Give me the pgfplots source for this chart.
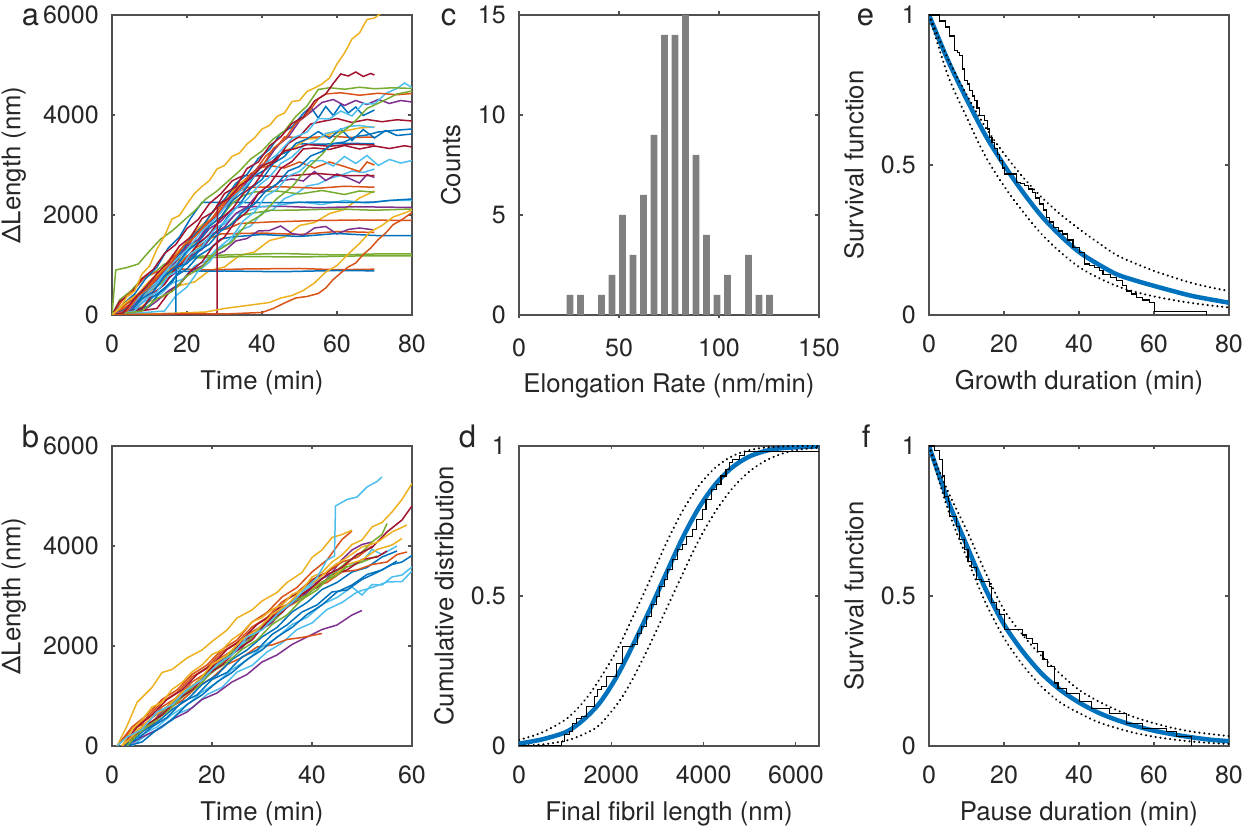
\documentclass[border=0pt]{standalone}
\usepackage{fontspec}
\setmainfont{TeX Gyre Heros}
\usepackage{pgfplots}
\pgfplotsset{compat=1.18}

\definecolor{m1}{RGB}{0,114,189}
\definecolor{m2}{RGB}{217,83,25}
\definecolor{m3}{RGB}{237,177,32}
\definecolor{m4}{RGB}{126,47,142}
\definecolor{m5}{RGB}{119,172,48}
\definecolor{m6}{RGB}{77,190,238}
\definecolor{m7}{RGB}{162,20,47}
\definecolor{axgray}{RGB}{38,38,38}
\definecolor{framegray}{RGB}{80,80,80}
\definecolor{histgray}{RGB}{128,128,128}

\pgfplotsset{
  mat/.style={
    scale only axis, width=120pt, height=120pt,
    axis line style={draw=framegray, line width=0.45pt},
    every tick/.style={draw=framegray, line width=0.45pt},
    major tick length=1.4pt,
    tick align=inside,
    tick label style={font=\fontsize{10}{12}\selectfont, text=axgray},
    label style={font=\fontsize{10.3}{12}\selectfont, text=axgray},
    /pgf/number format/assume math mode=true,
    /pgf/number format/1000 sep={},
    scaled ticks=false,
    xticklabel shift=4.5pt,
    yticklabel shift=1.8pt,
  },
  trace/.style={line width=0.6pt},
  fit/.style={color=m1, line width=1.8pt, smooth, tension=0.5},
  ci/.style={black, line width=0.9pt, line cap=round, dash pattern=on 0.05pt off 1.9pt, smooth, tension=0.5},
  km/.style={black, line width=0.45pt, const plot},
}
\tikzset{letter/.style={anchor=base west, font=\fontsize{12.4}{14}\selectfont, text=axgray}}

\begin{document}
\begin{tikzpicture}
\path[use as bounding box] (0,0) rectangle (501.2pt,-331.2pt);

% ---------------- a ----------------
\begin{axis}[mat, at={(44.8pt,-6pt)}, anchor=north west,
  xmin=0, xmax=80, ymin=0, ymax=6000,
  xtick={0,20,40,60,80}, ytick={0,2000,4000,6000},
  xlabel={Time (min)}, ylabel={ΔLength (nm)},
  every axis plot/.append style={trace}]
\addplot[m6] coordinates {(0,0)(5,100)(10,330)(13,420)(16,640)(19,720)(22,980)(25,1080)(28,1330)(31,1420)(34,1690)(37,1780)(40,2040)(43,2110)(46,2330)(49,2420)(52,2580)(55,2620)(58,2730)(61,2790)(64,2880)(67,2850)(70,2920)};
\addplot[m3] coordinates {(0,0)(6,80)(10,270)(14,380)(18,590)(22,660)(26,890)(30,960)(34,1190)(38,1260)(42,1490)(46,1560)(50,1790)(54,1850)(58,2030)(62,2110)(66,2340)(70,2480)};
\addplot[m5] coordinates {(0,0)(2,300)(5,480)(8,720)(11,830)(14,1020)(17,1080)(20,1160)(30,1200)(45,1230)(60,1200)(70,1220)(80,1220)};
\addplot[m5] coordinates {(0,0)(3,180)(6,380)(9,520)(12,780)(15,870)(18,1070)(22,1140)(35,1170)(50,1160)(65,1180)(80,1180)};
\addplot[m2] coordinates {(0,0)(3,320)(6,520)(9,780)(12,860)(15,930)(25,900)(35,920)(50,930)(60,905)(70,916)};
\addplot[m1] coordinates {(0,0)(4,120)(7,420)(10,570)(13,800)(16,870)(30,880)(45,865)(60,890)(70,883)};
\addplot[m2] coordinates {(0,0)(5,180)(8,380)(11,520)(14,780)(17,900)(20,1180)(23,1300)(26,1530)(29,1620)(40,1640)(50,1610)(60,1670)(70,1650)};
\addplot[m4] coordinates {(0,0)(9,120)(12,280)(15,480)(18,620)(21,880)(24,980)(27,1180)(30,1280)(33,1480)(36,1530)(39,1680)(42,1690)(45,1780)(48,1630)(51,1590)(54,1740)(57,1770)(60,1620)(63,1710)(66,1740)(70,1700)};
\addplot[m1] coordinates {(0,0)(8,130)(11,370)(14,520)(17,780)(20,920)(23,1180)(26,1320)(29,1520)(32,1560)(40,1610)(50,1570)(60,1630)(70,1590)(80,1585)};
\addplot[m2] coordinates {(0,0)(4,120)(7,280)(10,530)(13,660)(16,930)(19,1060)(22,1330)(25,1460)(28,1680)(31,1730)(34,1830)(42,1860)(55,1890)(66,1900)(80,1890)};
\addplot[m5] coordinates {(0,0)(7,230)(10,480)(13,620)(16,880)(19,1010)(22,1280)(25,1420)(28,1680)(31,1770)(34,1980)(37,2030)(42,2090)(50,2100)(60,2120)(70,2095)(80,2120)};
\addplot[m4] coordinates {(0,0)(5,90)(8,330)(11,470)(14,780)(17,960)(20,1280)(23,1460)(26,1730)(29,1870)(32,2120)(34,2160)(45,2175)(55,2145)(65,2165)(80,2150)};
\addplot[m6] coordinates {(0,0)(6,130)(9,420)(12,610)(15,930)(18,1060)(21,1330)(24,1460)(27,1730)(30,1820)(33,2020)(36,2080)(40,2170)(44,2190)(50,2260)(56,2210)(62,2290)(68,2240)(74,2290)(80,2290)};
\addplot[m1] coordinates {(0,0)(3,220)(6,420)(9,730)(12,960)(15,1340)(18,1560)(21,1940)(24,2250)(35,2250)(45,2245)(55,2260)(65,2250)(70,2260)(74,2290)(77,2305)(80,2320)};
\addplot[m5] coordinates {(0,0)(5,160)(8,430)(11,610)(14,880)(17,1060)(20,1330)(23,1510)(26,1780)(29,1950)(32,2230)(35,2390)(38,2460)(44,2480)(50,2420)(56,2490)(62,2410)(66,2480)(70,2455)};
\addplot[m2] coordinates {(0,0)(4,270)(7,420)(10,680)(13,860)(16,1130)(19,1310)(22,1580)(25,1760)(28,2030)(31,2210)(34,2480)(36,2550)(45,2565)(55,2535)(62,2575)(70,2555)};
\addplot[m4] coordinates {(0,0)(6,90)(9,330)(12,470)(15,730)(18,910)(21,1180)(24,1310)(27,1630)(30,1760)(33,2030)(36,2160)(39,2430)(42,2510)(45,2680)(48,2720)(51,2680)(54,2870)(57,2690)(60,2820)(63,2740)(66,2640)(68,2810)(70,2750)};
\addplot[m7] coordinates {(0,0)(2,270)(5,420)(8,730)(11,910)(14,1230)(17,1410)(20,1730)(23,1910)(26,2230)(29,2420)(32,2680)(35,2790)(45,2770)(55,2830)(62,2785)(70,2790)};
\addplot[m2] coordinates {(0,0)(3,170)(6,330)(9,580)(12,760)(15,1080)(18,1260)(21,1580)(24,1760)(27,2080)(30,2260)(33,2580)(36,2720)(39,2930)(42,2990)(46,2940)(50,3060)(54,2940)(58,3060)(62,2970)(66,2870)(68,3060)(70,3000)};
\addplot[m1] coordinates {(0,0)(5,80)(8,330)(11,460)(14,780)(17,960)(20,1280)(23,1460)(26,1780)(29,1960)(32,2280)(35,2460)(38,2780)(41,2910)(44,3180)(47,3270)(50,3425)(56,3415)(62,3435)(70,3425)};
\addplot[m2] coordinates {(0,0)(5,220)(8,380)(11,680)(14,860)(17,1180)(20,1360)(23,1680)(26,1860)(29,2180)(32,2360)(35,2680)(38,2860)(41,3180)(44,3360)(46,3560)(52,3545)(58,3575)(64,3550)(70,3560)};
\addplot[m3] coordinates {(0,0)(4,270)(7,420)(10,680)(13,860)(16,1180)(19,1360)(22,1680)(25,1860)(28,2180)(31,2360)(34,2630)(37,2760)(40,2980)(43,3070)(46,3280)(49,3370)(52,3520)(55,3530)(58,3620)(62,3680)(66,3740)(70,3760)};
\addplot[m6] coordinates {(0,0)(14,80)(17,380)(20,560)(23,880)(26,1060)(29,1380)(32,1560)(35,1880)(38,2060)(41,2380)(44,2510)(47,2780)(50,2870)(53,3080)(56,3090)(59,2980)(62,3170)(65,3030)(68,3190)(71,2990)(74,3110)(77,3040)(80,3090)};
\addplot[m7] coordinates {(0,0)(12,130)(15,430)(18,610)(21,880)(24,1060)(27,1380)(30,1560)(33,1880)(36,2060)(39,2430)(42,2610)(45,2930)(48,3070)(51,3320)(54,3340)(58,3310)(62,3390)(66,3320)(70,3380)(74,3330)(78,3385)(80,3360)};
\addplot[m1] coordinates {(0,0)(10,180)(13,480)(16,660)(19,980)(22,1160)(25,1480)(28,1660)(31,1980)(34,2210)(37,2530)(40,2710)(43,3030)(46,3170)(49,3430)(52,3520)(55,3670)(58,3530)(61,3720)(64,3490)(67,3710)(70,3540)(73,3690)(76,3590)(80,3620)};
\addplot[m7] coordinates {(0,0)(8,130)(11,430)(14,610)(17,930)(20,1110)(23,1430)(26,1610)(29,1930)(32,2110)(35,2430)(38,2610)(41,2930)(44,3110)(47,3430)(50,3570)(53,3820)(56,3870)(60,3930)(64,3850)(68,3910)(72,3865)(76,3905)(80,3880)};
\addplot[m6] coordinates {(0,0)(6,80)(9,330)(12,460)(15,780)(18,910)(21,1230)(24,1360)(27,1680)(30,1860)(33,2130)(36,2310)(39,2580)(42,2760)(45,3030)(48,3160)(51,3380)(54,3470)(57,3630)(60,3680)(63,3770)(66,3790)(70,3750)};
\addplot[m1] coordinates {(0,0)(6,180)(9,480)(12,660)(15,980)(18,1210)(21,1530)(24,1760)(27,2080)(30,2310)(33,2630)(36,2810)(39,3130)(42,3310)(45,3630)(48,3760)(51,4030)(53,4160)(55,3940)(57,4170)(59,3990)(61,4210)(63,4040)(65,4160)(67,3990)(70,4100)};
\addplot[m4] coordinates {(0,0)(5,130)(8,430)(11,610)(14,880)(17,1060)(20,1380)(23,1510)(26,1830)(29,2060)(32,2380)(35,2560)(38,2880)(41,3060)(44,3380)(47,3560)(50,3880)(53,4060)(56,4250)(59,4310)(62,4190)(65,4290)(68,4210)(71,4310)(74,4230)(77,4290)(80,4260)};
\addplot[m6] coordinates {(0,0)(4,80)(8,430)(12,660)(16,1030)(20,1310)(24,1680)(28,1960)(32,2330)(36,2610)(40,2980)(44,3210)(48,3530)(52,3660)(55,3930)(58,3920)(61,4080)(64,3980)(67,4230)(70,4220)(73,4430)(76,4530)(78,4640)(80,4550)};
\addplot[m2] coordinates {(0,0)(4,80)(7,380)(10,560)(13,830)(16,1060)(19,1380)(22,1560)(25,1830)(28,2010)(31,2330)(34,2510)(37,2830)(40,2960)(43,3330)(46,3510)(49,3830)(52,4010)(55,4320)(57,4420)(61,4445)(66,4395)(71,4435)(76,4405)(80,4430)};
\addplot[m5] coordinates {(0,0)(8,80)(12,330)(16,470)(20,780)(24,960)(28,1280)(32,1460)(36,1830)(40,2010)(44,2330)(48,2560)(52,2930)(56,3210)(60,3580)(64,3810)(68,4130)(72,4270)(76,4420)(80,4480)};
\addplot[m5] coordinates {(0,0)(1,900)(4,950)(7,1020)(10,1280)(13,1520)(16,1680)(19,1880)(22,2080)(25,2320)(28,2480)(31,2680)(34,2880)(37,3120)(40,3280)(43,3520)(46,3680)(49,3970)(52,4180)(55,4510)(58,4545)(62,4515)(66,4555)(70,4525)(75,4545)(80,4530)};
\addplot[m7] coordinates {(0,0)(3,40)(6,330)(9,560)(12,830)(15,1060)(18,1380)(21,1560)(24,1930)(27,2060)(30,2430)(33,2560)(36,2930)(39,3060)(42,3380)(45,3560)(48,3830)(51,3960)(54,4280)(57,4420)(59,4630)(61,4820)(63,4780)(65,4860)(67,4770)(69,4830)(70,4800)};
\addplot[m7] coordinates {(0,0)(10,10)(20,20)(28,20)(28.1,2200)(31,2330)(34,2580)(37,2730)(40,2980)(43,3080)(46,3280)(49,3330)(52,3410)(58,3375)(64,3415)(70,3400)};
\addplot[m1] coordinates {(0,0)(10,20)(17,30)(17.1,950)(20,1030)(23,1280)(26,1420)(29,1680)(32,1820)(35,2080)(38,2220)(41,2480)(44,2620)(47,2880)(50,2970)(53,3180)(56,3270)(59,3430)(62,3460)(65,3570)(68,3600)(71,3660)(75,3690)(80,3720)};
\addplot[m3] coordinates {(0,0)(15,30)(25,60)(30,130)(34,170)(38,210)(42,250)(45,340)(48,390)(51,490)(54,640)(57,860)(60,990)(63,1220)(66,1430)(69,1670)(72,1790)(75,1960)(78,2040)(80,2100)};
\addplot[m2] coordinates {(0,0)(20,30)(30,20)(40,50)(43,130)(46,240)(49,340)(52,370)(55,430)(57,540)(59,710)(61,840)(63,960)(65,1040)(67,1210)(69,1340)(71,1510)(73,1640)(75,1810)(77,1890)(80,2050)};
\addplot[m3] coordinates {(0,0)(2,130)(4,370)(6,480)(8,820)(10,980)(12,1320)(14,1580)(16,1920)(18,1990)(20,2220)(22,2430)(24,2570)(26,2690)(28,2920)(30,2990)(32,3170)(34,3240)(36,3420)(38,3540)(40,3720)(42,3790)(44,3970)(46,4040)(48,4270)(50,4290)(52,4470)(54,4540)(56,4620)(58,4740)(60,5020)(62,5240)(64,5520)(66,5640)(68,5910)(70,5940)(72,6050)};
\end{axis}

% ---------------- b ----------------
\begin{axis}[mat, at={(44.8pt,-178.4pt)}, anchor=north west,
  xmin=0, xmax=60, ymin=0, ymax=6000,
  xtick={0,20,40,60}, ytick={0,2000,4000,6000},
  xlabel={Time (min)}, ylabel={ΔLength (nm)},
  every axis plot/.append style={trace}]
\addplot[m6] coordinates {(4,0)(7,230)(10,370)(13,640)(16,760)(19,1030)(22,1170)(25,1480)(28,1610)(31,1880)(34,2060)(37,2330)(40,2460)(43,2730)(46,2870)(49,3080)(52,3170)(55,3280)(58,3290)(60,3500)};
\addplot[m4] coordinates {(3,0)(6,180)(9,320)(12,530)(15,680)(18,930)(21,1060)(24,1280)(27,1430)(30,1680)(33,1820)(36,2030)(39,2180)(42,2330)(45,2420)(48,2620)(50,2710)};
\addplot[m2] coordinates {(2,0)(5,280)(8,420)(11,730)(14,910)(17,1180)(20,1360)(23,1630)(26,1770)(29,1980)(32,2020)(35,2130)(38,2170)(42,2250)};
\addplot[m6] coordinates {(3,0)(6,230)(9,380)(12,630)(15,820)(18,1080)(21,1270)(24,1530)(27,1720)(30,1980)(33,2170)(36,2430)(39,2570)(42,2830)(45,2970)(48,3180)(50,3020)(52,3230)(54,3220)(56,3380)(58,3420)(60,3580)};
\addplot[m1] coordinates {(3,0)(6,80)(9,330)(12,520)(15,830)(18,1020)(21,1280)(24,1470)(27,1730)(30,1920)(33,2180)(36,2370)(39,2630)(42,2820)(45,3080)(48,3220)(51,3430)(54,3520)(57,3700)};
\addplot[m1] coordinates {(2,0)(5,130)(8,380)(11,570)(14,880)(17,1020)(20,1330)(23,1470)(26,1780)(29,1920)(32,2230)(35,2420)(38,2680)(41,2820)(44,3080)(47,3120)(50,3330)(53,3470)(56,3630)(58,3680)(60,3810)};
\addplot[m1] coordinates {(3,0)(6,280)(9,470)(12,730)(15,920)(18,1230)(21,1420)(24,1730)(27,1920)(30,2180)(33,2370)(36,2680)(39,2870)(42,3130)(45,3270)(48,3480)(51,3570)(54,3780)(57,3900)};
\addplot[m2] coordinates {(1,0)(4,330)(7,470)(10,780)(13,970)(16,1280)(19,1470)(22,1780)(25,1970)(28,2280)(31,2470)(34,2780)(37,2920)(40,3180)(43,3270)(46,3480)(49,3520)(52,3630)(55,3680)(57,3830)(59,3880)};
\addplot[m6] coordinates {(2,0)(5,280)(8,470)(11,780)(14,970)(17,1280)(20,1520)(23,1830)(26,2020)(29,2330)(32,2520)(35,2830)(38,3020)(41,3330)(44,3420)(47,3630)(50,3680)(52,3930)(54,3830)(57,4000)};
\addplot[m5] coordinates {(2,0)(5,280)(8,470)(11,780)(14,970)(17,1280)(20,1470)(23,1780)(26,1970)(29,2280)(32,2470)(35,2780)(38,2970)(41,3230)(44,3370)(47,3580)(50,3680)(53,3800)};
\addplot[m7] coordinates {(2,0)(5,230)(8,570)(11,780)(14,1080)(17,1270)(20,1580)(23,1770)(26,2080)(29,2270)(32,2580)(35,2770)(38,3030)(41,3170)(44,3430)(47,3520)(50,3730)(53,3780)(55,3900)};
\addplot[m3] coordinates {(2,0)(5,330)(8,480)(11,780)(14,970)(17,1280)(20,1470)(23,1780)(26,1970)(29,2280)(32,2470)(35,2780)(38,2920)(41,3230)(44,3370)(47,3630)(50,3720)(53,3930)(56,4020)(58,4150)};
\addplot[m4] coordinates {(2,0)(5,280)(8,470)(11,780)(14,970)(17,1280)(20,1470)(23,1780)(26,1970)(29,2280)(32,2470)(35,2780)(38,2970)(41,3280)(44,3470)(46,3730)(48,3920)(50,4030)(52,4080)};
\addplot[m2] coordinates {(1,0)(4,330)(7,570)(10,880)(13,1070)(16,1380)(19,1570)(22,1880)(25,2070)(28,2380)(31,2570)(34,2880)(37,3070)(40,3330)(43,3470)(46,3680)(49,3770)(52,4000)};
\addplot[m5] coordinates {(3,0)(6,330)(9,520)(12,880)(15,1070)(18,1380)(21,1570)(24,1880)(27,2070)(30,2380)(33,2570)(36,2880)(39,3020)(42,3280)(45,3420)(47,3600)};
\addplot[m7] coordinates {(2,0)(5,380)(8,620)(11,930)(14,1120)(17,1430)(20,1620)(23,1930)(26,2120)(29,2430)(32,2620)(35,2930)(38,3120)(41,3380)(43,3470)(45,3650)};
\addplot[m2] coordinates {(1,0)(4,380)(7,620)(10,930)(13,1120)(16,1430)(19,1620)(22,1930)(25,2120)(28,2480)(31,2670)(34,2980)(37,3170)(40,3480)(43,3720)(46,4130)(48,4300)};
\addplot[m3] coordinates {(1,0)(3,400)(5,870)(8,1170)(10,1470)(12,1530)(15,1760)(18,1920)(20,2090)(23,2320)(25,2560)(28,2720)(30,2900)(33,3070)(35,3270)(38,3470)(40,3770)(42,3920)(44,4170)(46,4230)(48,4315)};
\addplot[m5] coordinates {(2,0)(5,230)(8,470)(11,680)(14,980)(17,1170)(20,1480)(23,1670)(26,1930)(29,2120)(32,2430)(35,2620)(38,2930)(41,3120)(44,3430)(47,3680)(50,3880)(52,4080)(54,4230)(55,4450)};
\addplot[m7] coordinates {(2,0)(4,180)(7,430)(10,620)(13,930)(16,1120)(19,1430)(22,1620)(25,1930)(28,2120)(31,2480)(34,2670)(37,2980)(40,3170)(43,3430)(46,3570)(49,3830)(52,3970)(55,4280)(58,4520)(60,4800)};
\addplot[m3] coordinates {(2,0)(5,280)(8,580)(11,780)(14,1080)(17,1270)(20,1630)(23,1820)(26,2130)(29,2320)(32,2630)(35,2820)(38,3130)(41,3320)(44,3580)(47,3770)(50,3980)(53,4070)(56,4280)(59,4420)};
\addplot[m3] coordinates {(2,0)(4,330)(6,520)(8,780)(10,870)(12,1130)(14,1270)(16,1480)(18,1620)(20,1830)(22,1920)(24,2130)(26,2270)(28,2480)(30,2570)(32,2730)(34,2820)(36,3030)(38,3120)(40,3380)(42,3470)(44,3680)(46,3820)(48,4030)(50,4120)(52,4380)(54,4470)(56,4680)(58,4930)(60,5250)};
\addplot[m6] coordinates {(1,0)(3,180)(6,330)(9,680)(12,820)(15,1130)(18,1320)(21,1630)(24,1820)(27,2180)(30,2320)(33,2630)(36,2870)(39,3180)(41,3370)(43,3720)(44.5,3800)(44.7,4800)(47,4930)(49,4980)(51,5180)(53,5290)(54,5380)};
\end{axis}

% ---------------- c ----------------
\begin{axis}[mat, at={(207.6pt,-6pt)}, anchor=north west,
  xmin=0, xmax=150, ymin=0, ymax=15,
  xtick={0,50,100,150}, ytick={0,5,10,15},
  xlabel={Elongation Rate (nm/min)}, ylabel={Counts},
  ybar, bar width=3.4]
\addplot[fill=histgray, draw=none] coordinates {
  (25.5,1)(30.75,1)(41.25,1)(46.5,2)(51.75,5)(57,3)(62.25,6)(67.5,9)(72.75,14)
  (78,14)(83.25,15)(88.5,8)(93.75,4)(99,1)(104.25,2)(114.75,3)(120,1)(125.25,1)};
\end{axis}

% ---------------- d ----------------
\begin{axis}[mat, at={(207.6pt,-178.4pt)}, anchor=north west,
  xmin=0, xmax=6500, ymin=0, ymax=1,
  xtick={0,2000,4000,6000}, ytick={0,0.5,1},
  xlabel={Final fibril length (nm)}, ylabel={Cumulative distribution}]
\addplot[fit] coordinates {(0,0.008)(500,0.022)(1024,0.047)(1385,0.086)(1745,0.143)(2106,0.228)(2467,0.336)(2827,0.452)(3188,0.575)(3549,0.695)(3909,0.797)(4270,0.875)(4630,0.93)(4991,0.965)(5352,0.984)(5712,0.993)(6500,0.999)};
\addplot[km] coordinates {(0,0)(916,0.014)(988,0.037)(1096,0.048)(1168,0.076)(1241,0.092)(1349,0.098)(1457,0.131)(1637,0.165)(1709,0.187)(1781,0.198)(1890,0.232)(2106,0.276)(2250,0.332)(2467,0.337)(2575,0.376)(2647,0.399)(2755,0.432)(2863,0.471)(2972,0.499)(3044,0.532)(3152,0.555)(3224,0.588)(3332,0.621)(3440,0.655)(3549,0.671)(3621,0.699)(3765,0.722)(3837,0.755)(3981,0.788)(4053,0.822)(4162,0.855)(4270,0.872)(4378,0.90)(4486,0.922)(4558,0.944)(4630,0.955)(4775,0.967)(4883,0.983)(6500,0.983)};
\addplot[ci] coordinates {(0,0.02)(500,0.045)(1024,0.09)(1385,0.145)(1673,0.205)(2106,0.315)(2467,0.43)(2827,0.55)(3188,0.675)(3549,0.785)(3909,0.87)(4270,0.93)(4630,0.967)(4991,0.986)(5352,0.995)(6000,1)(6500,1)};
\addplot[ci] coordinates {(0,0.001)(500,0.005)(1024,0.018)(1385,0.038)(1745,0.07)(2178,0.15)(2467,0.225)(2827,0.335)(3188,0.455)(3549,0.575)(3909,0.69)(4270,0.785)(4630,0.86)(4991,0.915)(5352,0.952)(5712,0.975)(6073,0.988)(6500,0.995)};
\end{axis}

% ---------------- e ----------------
\begin{axis}[mat, at={(371.6pt,-6pt)}, anchor=north west,
  xmin=0, xmax=80, ymin=0, ymax=1,
  xtick={0,20,40,60,80}, ytick={0,0.5,1},
  xlabel={Growth duration (min)}, ylabel={Survival function}]
\addplot[fit] coordinates {(0,1)(5,0.85)(10,0.72)(15,0.60)(20,0.50)(25,0.41)(30,0.33)(35,0.265)(40,0.21)(45,0.17)(50,0.136)(55,0.115)(60,0.097)(65,0.08)(70,0.064)(75,0.052)(80,0.041)};
\addplot[km] coordinates {(0,1)(2.8,0.98)(4.5,0.96)(5.5,0.93)(6.8,0.883)(7.5,0.875)(8.2,0.866)(9.0,0.82)(9.5,0.783)(10.2,0.77)(10.8,0.749)(11.5,0.73)(12.2,0.716)(12.8,0.69)(13.5,0.666)(14.8,0.649)(15.5,0.62)(16.2,0.593)(16.8,0.575)(17.5,0.554)(18.2,0.535)(18.8,0.515)(19.5,0.49)(20.2,0.47)(23.3,0.443)(24.5,0.437)(25.5,0.432)(26.5,0.42)(27.7,0.409)(28.5,0.39)(29.5,0.37)(30.5,0.35)(31.3,0.326)(32.2,0.31)(33.1,0.293)(34.5,0.28)(35.7,0.27)(37,0.25)(38.4,0.225)(40.2,0.209)(41.5,0.17)(42.8,0.165)(44.2,0.159)(45.5,0.147)(46.4,0.136)(48.3,0.125)(50,0.114)(51.5,0.097)(52.6,0.08)(54,0.07)(55.3,0.058)(57,0.05)(58.8,0.041)(60.2,0.013)(74,0)};
\addplot[ci] coordinates {(0,1)(5,0.855)(10,0.735)(15,0.627)(20,0.538)(25,0.46)(30,0.393)(35,0.336)(40,0.287)(45,0.242)(50,0.20)(55,0.172)(60,0.147)(65,0.126)(70,0.107)(75,0.092)(80,0.08)};
\addplot[ci] coordinates {(0,1)(5,0.80)(10,0.66)(15,0.53)(20,0.43)(25,0.345)(30,0.27)(35,0.21)(40,0.16)(45,0.125)(50,0.097)(55,0.077)(60,0.062)(65,0.05)(70,0.04)(75,0.032)(80,0.025)};
\end{axis}

% ---------------- f ----------------
\begin{axis}[mat, at={(371.6pt,-178.4pt)}, anchor=north west,
  xmin=0, xmax=80, ymin=0, ymax=1,
  xtick={0,20,40,60,80}, ytick={0,0.5,1},
  xlabel={Pause duration (min)}, ylabel={Survival function}]
\addplot[fit] coordinates {(0,1)(5,0.82)(10,0.67)(15,0.525)(20,0.405)(25,0.315)(30,0.242)(35,0.187)(40,0.145)(45,0.112)(50,0.087)(55,0.067)(60,0.051)(65,0.039)(70,0.029)(75,0.021)(80,0.016)};
\addplot[km] coordinates {(0,1)(1.5,0.985)(2.8,0.955)(3.7,0.90)(4.2,0.833)(5.1,0.816)(5.5,0.766)(7.3,0.733)(8.2,0.688)(9.5,0.655)(10.4,0.616)(11.3,0.594)(12.6,0.555)(14,0.549)(16.2,0.532)(16.6,0.477)(18,0.454)(18.8,0.438)(20.2,0.388)(25,0.37)(26,0.359)(27.7,0.343)(29,0.315)(30.4,0.287)(31.7,0.265)(33.5,0.21)(34.4,0.193)(36.6,0.176)(40.2,0.148)(43.3,0.126)(48.2,0.109)(52.6,0.076)(57,0.059)(63.3,0.048)(65.9,0.031)(70,0)};
\addplot[ci] coordinates {(0,1)(5,0.85)(10,0.72)(15,0.58)(20,0.454)(25,0.37)(30,0.30)(35,0.24)(40,0.187)(45,0.15)(50,0.12)(55,0.095)(60,0.076)(65,0.06)(70,0.048)(75,0.04)(80,0.033)};
\addplot[ci] coordinates {(0,1)(5,0.79)(10,0.63)(15,0.48)(20,0.36)(25,0.27)(30,0.198)(35,0.145)(40,0.11)(45,0.08)(50,0.06)(55,0.043)(60,0.031)(65,0.022)(70,0.015)(75,0.01)(80,0.007)};
\end{axis}

\node[letter] at (5.2pt,-10.4pt) {a};
\node[letter] at (172.8pt,-10.4pt) {c};
\node[letter] at (339.2pt,-10.4pt) {e};
\node[letter] at (5.2pt,-179.2pt) {b};
\node[letter] at (180pt,-179.2pt) {d};
\node[letter] at (341.2pt,-179.2pt) {f};
\end{tikzpicture}
\end{document}
